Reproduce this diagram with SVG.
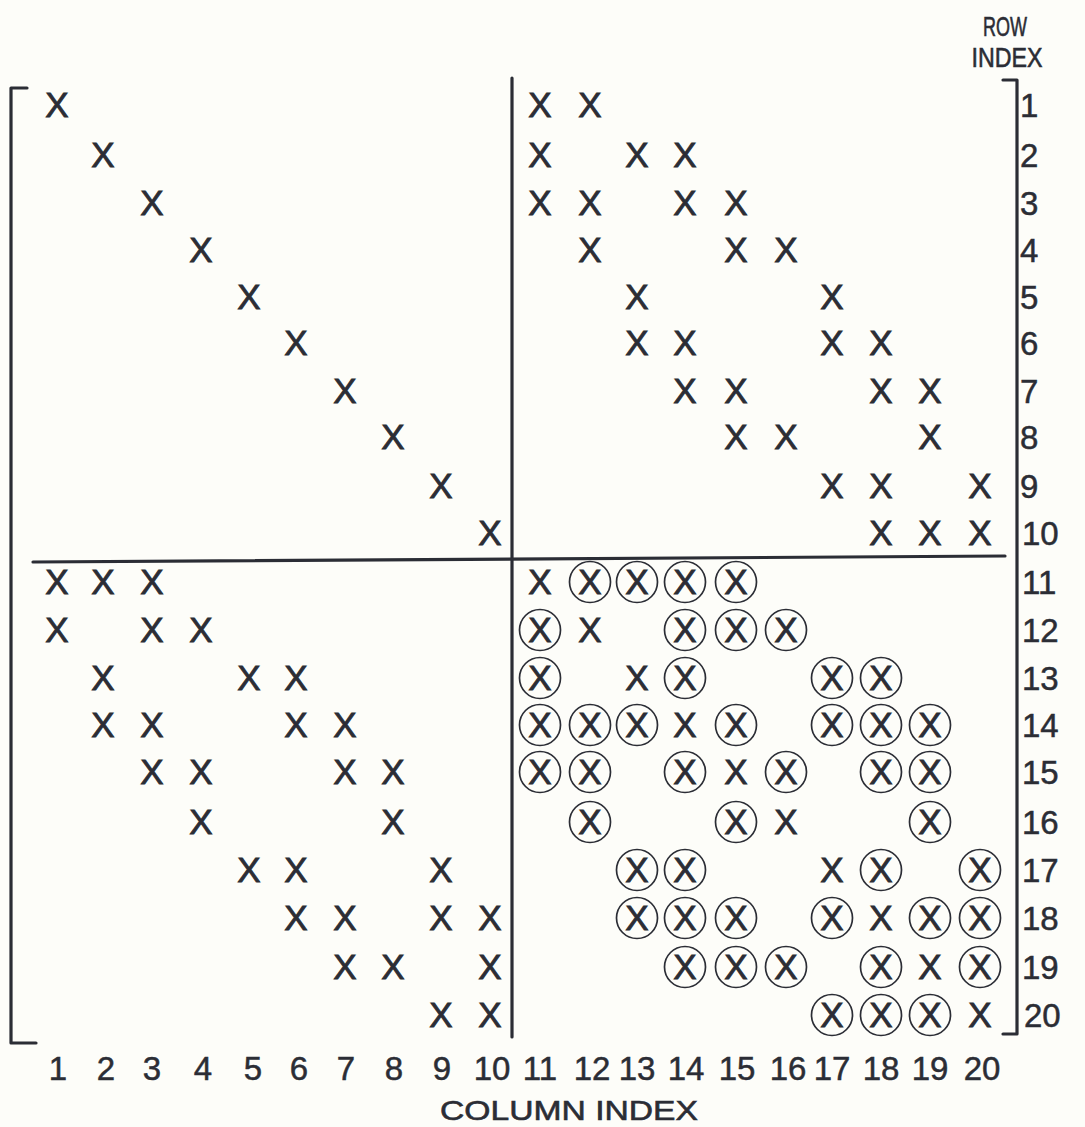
<svg xmlns="http://www.w3.org/2000/svg" width="1085" height="1127" viewBox="0 0 1085 1127">
<style>
.bg{fill:#fdfdf9}
.x{font-family:"Liberation Sans",Arial,sans-serif;font-size:35px;fill:#2b2d35;stroke:#2b2d35;stroke-width:0.9;text-anchor:middle}
.lab{font-family:"Liberation Sans",Arial,sans-serif;font-size:33px;fill:#2b2d35;stroke:#2b2d35;stroke-width:0.5}
.cl{text-anchor:middle}
.ttl{font-family:"Liberation Sans",Arial,sans-serif;font-size:28px;fill:#2b2d35;stroke:#2b2d35;stroke-width:0.6;text-anchor:middle}
.ln{stroke:#2b2d35;stroke-width:3.2;fill:none;stroke-linecap:round;stroke-linejoin:round}
.c{stroke:#2b2d35;stroke-width:1.7;fill:none}
</style>
<defs>
<circle id="ring" r="20.5" class="c"/>
</defs>
<rect class="bg" x="0" y="0" width="1085" height="1127"/>
<g id="connectors">
<path class="ln" d="M27 88 L11 88 L11 1043 L36 1043"/>
<path class="ln" d="M1003 80 L1017 80 L1017 1034 L1003 1034"/>
<path class="ln" d="M512 78 L512 1037"/>
<path class="ln" d="M33 562 L1005 556"/>
</g>
<g id="titles">
<text class="ttl" x="1005" y="36" textLength="44" lengthAdjust="spacingAndGlyphs">ROW</text>
<text class="ttl" x="1007" y="67" textLength="71" lengthAdjust="spacingAndGlyphs">INDEX</text>
<text class="ttl" x="569" y="1120" font-size="30" textLength="258" lengthAdjust="spacingAndGlyphs">COLUMN INDEX</text>
</g>
<g id="row-labels" class="lab">
<text x="1020" y="117">1</text>
<text x="1020" y="167">2</text>
<text x="1020" y="215">3</text>
<text x="1020" y="262">4</text>
<text x="1020" y="309">5</text>
<text x="1020" y="355">6</text>
<text x="1020" y="403">7</text>
<text x="1020" y="449">8</text>
<text x="1020" y="498">9</text>
<text x="1022" y="545">10</text>
<text x="1022" y="594">11</text>
<text x="1022" y="642">12</text>
<text x="1022" y="690">13</text>
<text x="1022" y="737">14</text>
<text x="1022" y="784">15</text>
<text x="1022" y="834">16</text>
<text x="1022" y="882">17</text>
<text x="1022" y="930">18</text>
<text x="1022" y="979">19</text>
<text x="1024" y="1027">20</text>
</g>
<g id="col-labels" class="lab cl">
<text x="58" y="1080">1</text>
<text x="106" y="1080">2</text>
<text x="152" y="1080">3</text>
<text x="203" y="1080">4</text>
<text x="253" y="1080">5</text>
<text x="299" y="1080">6</text>
<text x="346" y="1080">7</text>
<text x="394" y="1080">8</text>
<text x="442" y="1080">9</text>
<text x="492" y="1080">10</text>
<text x="540" y="1080">11</text>
<text x="592" y="1080">12</text>
<text x="637" y="1080">13</text>
<text x="686" y="1080">14</text>
<text x="737" y="1080">15</text>
<text x="788" y="1080">16</text>
<text x="832" y="1080">17</text>
<text x="881" y="1080">18</text>
<text x="930" y="1080">19</text>
<text x="982" y="1080">20</text>
</g>
<g id="upper-left" class="x">
<text x="57" y="117">X</text>
<text x="103" y="167">X</text>
<text x="152" y="215">X</text>
<text x="201" y="262">X</text>
<text x="249" y="309">X</text>
<text x="296" y="355">X</text>
<text x="345" y="403">X</text>
<text x="393" y="449">X</text>
<text x="441" y="498">X</text>
<text x="490" y="545">X</text>
</g>
<g id="upper-right" class="x">
<text x="540" y="117">X</text><text x="590" y="117">X</text>
<text x="540" y="167">X</text><text x="637" y="167">X</text><text x="685" y="167">X</text>
<text x="540" y="215">X</text><text x="590" y="215">X</text><text x="685" y="215">X</text><text x="736" y="215">X</text>
<text x="590" y="262">X</text><text x="736" y="262">X</text><text x="786" y="262">X</text>
<text x="637" y="309">X</text><text x="832" y="309">X</text>
<text x="637" y="355">X</text><text x="685" y="355">X</text><text x="832" y="355">X</text><text x="881" y="355">X</text>
<text x="685" y="403">X</text><text x="736" y="403">X</text><text x="881" y="403">X</text><text x="930" y="403">X</text>
<text x="736" y="449">X</text><text x="786" y="449">X</text><text x="930" y="449">X</text>
<text x="832" y="498">X</text><text x="881" y="498">X</text><text x="980" y="498">X</text>
<text x="881" y="545">X</text><text x="930" y="545">X</text><text x="980" y="545">X</text>
</g>
<g id="lower-left" class="x">
<text x="57" y="594">X</text><text x="103" y="594">X</text><text x="152" y="594">X</text>
<text x="57" y="642">X</text><text x="152" y="642">X</text><text x="201" y="642">X</text>
<text x="103" y="690">X</text><text x="249" y="690">X</text><text x="296" y="690">X</text>
<text x="103" y="737">X</text><text x="152" y="737">X</text><text x="296" y="737">X</text><text x="345" y="737">X</text>
<text x="152" y="784">X</text><text x="201" y="784">X</text><text x="345" y="784">X</text><text x="393" y="784">X</text>
<text x="201" y="834">X</text><text x="393" y="834">X</text>
<text x="249" y="882">X</text><text x="296" y="882">X</text><text x="441" y="882">X</text>
<text x="296" y="930">X</text><text x="345" y="930">X</text><text x="441" y="930">X</text><text x="490" y="930">X</text>
<text x="345" y="979">X</text><text x="393" y="979">X</text><text x="490" y="979">X</text>
<text x="441" y="1027">X</text><text x="490" y="1027">X</text>
</g>
<g id="lower-right-plain" class="x">
<text x="540" y="594">X</text>
<text x="590" y="642">X</text>
<text x="637" y="690">X</text>
<text x="685" y="737">X</text>
<text x="736" y="784">X</text>
<text x="786" y="834">X</text>
<text x="832" y="882">X</text>
<text x="881" y="930">X</text>
<text x="930" y="979">X</text>
<text x="980" y="1027">X</text>
</g>
<g id="lower-right-circled" class="x">
<text x="590" y="594">X</text><text x="637" y="594">X</text><text x="685" y="594">X</text><text x="736" y="594">X</text>
<text x="540" y="642">X</text><text x="685" y="642">X</text><text x="736" y="642">X</text><text x="786" y="642">X</text>
<text x="540" y="690">X</text><text x="685" y="690">X</text><text x="832" y="690">X</text><text x="881" y="690">X</text>
<text x="540" y="737">X</text><text x="590" y="737">X</text><text x="637" y="737">X</text><text x="736" y="737">X</text><text x="832" y="737">X</text><text x="881" y="737">X</text><text x="930" y="737">X</text>
<text x="540" y="784">X</text><text x="590" y="784">X</text><text x="685" y="784">X</text><text x="786" y="784">X</text><text x="881" y="784">X</text><text x="930" y="784">X</text>
<text x="590" y="834">X</text><text x="736" y="834">X</text><text x="930" y="834">X</text>
<text x="637" y="882">X</text><text x="685" y="882">X</text><text x="881" y="882">X</text><text x="980" y="882">X</text>
<text x="637" y="930">X</text><text x="685" y="930">X</text><text x="736" y="930">X</text><text x="832" y="930">X</text><text x="930" y="930">X</text><text x="980" y="930">X</text>
<text x="685" y="979">X</text><text x="736" y="979">X</text><text x="786" y="979">X</text><text x="881" y="979">X</text><text x="980" y="979">X</text>
<text x="832" y="1027">X</text><text x="881" y="1027">X</text><text x="930" y="1027">X</text>
</g>
<g id="rings">
<use href="#ring" x="590" y="582"/><use href="#ring" x="637" y="582"/><use href="#ring" x="685" y="582"/><use href="#ring" x="736" y="582"/>
<use href="#ring" x="540" y="630"/><use href="#ring" x="685" y="630"/><use href="#ring" x="736" y="630"/><use href="#ring" x="786" y="630"/>
<use href="#ring" x="540" y="678"/><use href="#ring" x="685" y="678"/><use href="#ring" x="832" y="678"/><use href="#ring" x="881" y="678"/>
<use href="#ring" x="540" y="725"/><use href="#ring" x="590" y="725"/><use href="#ring" x="637" y="725"/><use href="#ring" x="736" y="725"/><use href="#ring" x="832" y="725"/><use href="#ring" x="881" y="725"/><use href="#ring" x="930" y="725"/>
<use href="#ring" x="540" y="772"/><use href="#ring" x="590" y="772"/><use href="#ring" x="685" y="772"/><use href="#ring" x="786" y="772"/><use href="#ring" x="881" y="772"/><use href="#ring" x="930" y="772"/>
<use href="#ring" x="590" y="822"/><use href="#ring" x="736" y="822"/><use href="#ring" x="930" y="822"/>
<use href="#ring" x="637" y="870"/><use href="#ring" x="685" y="870"/><use href="#ring" x="881" y="870"/><use href="#ring" x="980" y="870"/>
<use href="#ring" x="637" y="918"/><use href="#ring" x="685" y="918"/><use href="#ring" x="736" y="918"/><use href="#ring" x="832" y="918"/><use href="#ring" x="930" y="918"/><use href="#ring" x="980" y="918"/>
<use href="#ring" x="685" y="967"/><use href="#ring" x="736" y="967"/><use href="#ring" x="786" y="967"/><use href="#ring" x="881" y="967"/><use href="#ring" x="980" y="967"/>
<use href="#ring" x="832" y="1015"/><use href="#ring" x="881" y="1015"/><use href="#ring" x="930" y="1015"/>
</g>
</svg>
